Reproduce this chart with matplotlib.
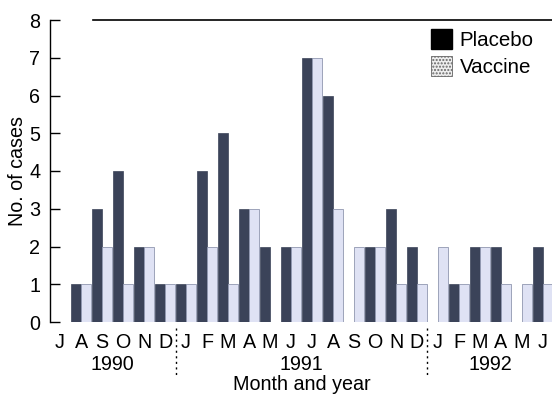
import matplotlib
matplotlib.use("Agg")
import matplotlib.pyplot as plt
from matplotlib.patches import Patch
from matplotlib.transforms import blended_transform_factory
import numpy as np

plt.rcParams['font.family'] = ['Liberation Sans', 'DejaVu Sans']

months = ['J', 'A', 'S', 'O', 'N', 'D',
          'J', 'F', 'M', 'A', 'M', 'J', 'J', 'A', 'S', 'O', 'N', 'D',
          'J', 'F', 'M', 'A', 'M', 'J']
years = ['1990', '1991', '1992']
months_per_year = [6, 12, 6]
placebo = [0, 1, 3, 4, 2, 1,
           1, 4, 5, 3, 2, 2, 7, 6, 0, 2, 3, 2,
           0, 1, 2, 2, 0, 2]
vaccine = [0, 1, 2, 1, 2, 1,
           1, 2, 1, 3, 0, 2, 7, 3, 2, 2, 1, 1,
           2, 1, 2, 1, 1, 1]
yticks = [0, 1, 2, 3, 4, 5, 6, 7, 8]

FS = 14.2
fig = plt.figure(figsize=(5.52, 3.95), dpi=100)
ax = fig.add_axes([50 / 552, 73 / 395, 502 / 552, 302 / 395])

x = np.arange(len(months))
w = 0.47
ax.bar(x - w / 2, placebo, width=w, color='#3b4359', edgecolor='#3b4359', linewidth=0.5)
ax.bar(x + w / 2, vaccine, width=w, color='#dfe2f4', edgecolor='#9097b0', linewidth=0.6)

ax.set_xlim(-0.48, 23.43)
ax.set_ylim(0, 8)
ax.set_yticks(yticks)
ax.set_yticklabels([str(v) for v in yticks], fontsize=FS)
ax.tick_params(axis='y', direction='in', length=7, width=1, pad=7)
ax.set_xticks(x)
ax.set_xticklabels(months, fontsize=FS)
ax.tick_params(axis='x', length=0, pad=8)

ax.spines['right'].set_visible(False)
ax.spines['bottom'].set_visible(False)
ax.spines['top'].set_bounds(1.57, 23.43)
ax.spines['left'].set_linewidth(1.0)
ax.spines['top'].set_linewidth(1.2)

ax.set_ylabel('No. of cases', fontsize=FS, labelpad=1.5)

trans = blended_transform_factory(ax.transData, ax.transAxes)
start = 0
for yr, n in zip(years, months_per_year):
    center = start + (n - 1) / 2
    ax.text(center, -0.142, yr, transform=trans, ha='center', va='center', fontsize=FS)
    if start > 0:
        ax.plot([start - 0.5, start - 0.5], [-0.02, -0.175], transform=trans,
                color='black', linestyle=(0, (1.5, 2.5)), linewidth=1.0, clip_on=False)
    start += n

ax.text(11.5, -0.207, 'Month and year', transform=trans, ha='center', va='center', fontsize=FS)

handles = [Patch(facecolor='black', edgecolor='black'),
           Patch(facecolor='#eeeeee', edgecolor='#666666', hatch='.....', linewidth=0.6)]
fig.legend(handles, ['Placebo', 'Vaccine'], loc='upper left',
           bbox_to_anchor=(431 / 552, 1 - 29 / 395), frameon=False, fontsize=14.8,
           handlelength=1.0, handleheight=1.1, handletextpad=0.4,
           labelspacing=0.3, borderpad=0, borderaxespad=0)

fig.savefig('out.png', dpi=100)
